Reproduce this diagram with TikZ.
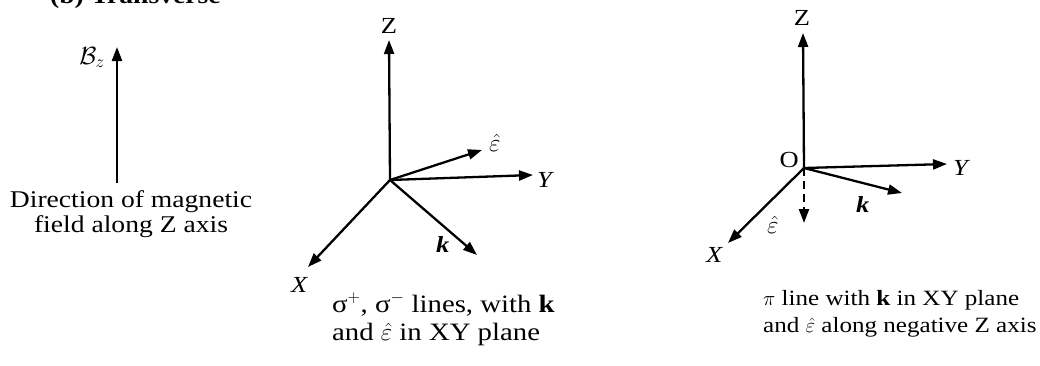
\documentclass[tikz,border=0pt]{standalone}
\usepackage{fontspec}
\setmainfont{Liberation Serif}[FakeStretch=1.15]
\usetikzlibrary{arrows.meta}
\begin{document}
\begin{tikzpicture}[x=1pt,y=-1pt,
  ax/.style={line width=2.3pt,-{Triangle[length=14pt,width=10pt]}},
  lbl/.style={inner sep=0pt,font=\fontsize{23}{25}\selectfont},
  mlbl/.style={inner sep=0pt,font=\fontsize{27}{28}\selectfont},
  captext/.style={inner sep=0pt,anchor=base west,align=left}]
\useasboundingbox (0,0) rectangle (1040,365);
% title (cut at top)
\node[lbl,anchor=base west,font=\fontsize{24}{25}\selectfont\bfseries] (title) at (50,3) {(b) Transverse};
% panel 1
\coordinate (O1) at (117,183);
\coordinate (B1) at (117,47);
\draw[ax] (O1) -- (B1);
\node[mlbl,anchor=base east] (Bz) at (105,64) {$\mathcal{B}_{z}$};
\node[captext,align=center,anchor=base,font=\fontsize{24}{25}\selectfont] (cap1) at (131,232) {Direction of magnetic\\field along Z axis};
% panel 2
\coordinate (O2) at (390,180);
\coordinate (Z2) at (389,40);
\coordinate (Y2) at (533,175);
\coordinate (E2) at (482,150);
\coordinate (K2) at (477,255);
\coordinate (X2) at (308,267);
\draw[ax] (O2) -- (Z2);
\draw[ax] (O2) -- (Y2);
\draw[ax] (O2) -- (E2);
\draw[ax] (O2) -- (K2);
\draw[ax] (O2) -- (X2);
\node[lbl,anchor=base] (zl2) at (389,33) {Z};
\node[lbl,anchor=base west] (yl2) at (537,187) {\textit{Y}};
\node[mlbl,anchor=base west] (el2) at (489,151) {$\hat{\varepsilon}$};
\node[lbl,anchor=base west] (kl2) at (436,252) {\textbf{\textit{k}}};
\node[lbl,anchor=base west] (xl2) at (291,292) {\textit{X}};
\node[captext,font=\fontsize{25}{28}\selectfont] (cap2) at (332,340) {σ$^{+}$, σ$^{-}$ lines, with \textbf{k}\\and $\hat{\varepsilon}$ in XY plane};
% panel 3
\coordinate (O3) at (804,168);
\coordinate (Z3) at (803,33);
\coordinate (Y3) at (947,164);
\coordinate (K3) at (902,193);
\coordinate (D3) at (804,223);
\coordinate (X3) at (728,243);
\draw[ax] (O3) -- (Z3);
\draw[ax] (O3) -- (Y3);
\draw[ax] (O3) -- (K3);
\draw[ax] (O3) -- (X3);
\draw[ax,dashed,dash pattern=on 8pt off 5pt] (O3) -- (D3);
\node[lbl,anchor=base] (zl3) at (802,25) {Z};
\node[lbl,anchor=base east] (ol3) at (799,167) {O};
\node[lbl,anchor=base west] (yl3) at (953,175) {\textit{Y}};
\node[lbl,anchor=base west] (kl3) at (856,212) {\textbf{\textit{k}}};
\node[lbl,anchor=base west] (xl3) at (706,262) {\textit{X}};
\node[mlbl,anchor=base west] (el3) at (767,233) {$\hat{\varepsilon}$};
\node[captext,font=\fontsize{21.8}{27}\selectfont] (cap3) at (763,332) {$\pi$ line with \textbf{k} in XY plane\\and $\hat{\varepsilon}$ along negative Z axis};
\end{tikzpicture}
\end{document}
